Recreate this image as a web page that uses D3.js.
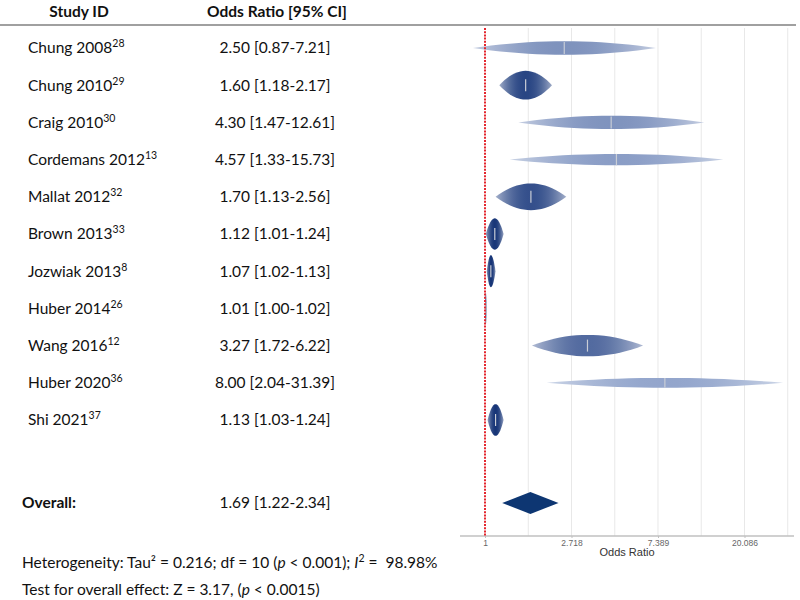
<!DOCTYPE html>
<html>
<head>
<meta charset="utf-8">
<script src="https://cdn.jsdelivr.net/npm/d3@7"></script>
<style>
  body { margin: 0; background: #fff; }
  svg { display: block; }
  .tbl { font-family: Lato, "Open Sans", sans-serif; font-size: 15.5px; fill: #111; }
  .axis text { font-family: "Liberation Sans", Arial, sans-serif; }
</style>
</head>
<body>
<div class="chart"></div>
<script>
// study data
const studies = ["Chung 2008", "Chung 2010", "Craig 2010", "Cordemans 2012", "Mallat 2012", "Brown 2013",
  "Jozwiak 2013", "Huber 2014", "Wang 2016", "Huber 2020", "Shi 2021"];
const refs = ["28", "29", "30", "13", "32", "33", "8", "26", "12", "36", "37"];
const oddsRatio = [2.50, 1.60, 4.30, 4.57, 1.70, 1.12, 1.07, 1.01, 3.27, 8.00, 1.13];
const lower = [0.87, 1.18, 1.47, 1.33, 1.13, 1.01, 1.02, 1.00, 1.72, 2.04, 1.03];
const upper = [7.21, 2.17, 12.61, 15.73, 2.56, 1.24, 1.13, 1.02, 6.22, 31.39, 1.24];
// random-effects weights (%)
const weights = [5.4, 11.4, 5.3, 4.5, 10.6, 12.5, 12.7, 12.7, 8.5, 3.9, 12.6];

const overall = { or: 1.69, lower: 1.22, upper: 2.34 };

// axis
const tickValues = [1, 2.718, 7.389, 20.086];
const tickLabels = ["1", "2.718", "7.389", "20.086"];
const gridValues = [1.649, 2.718, 4.482, 7.389, 12.182, 20.086, 33.115];

const width = 800, height = 600;
const svg = d3.select(".chart").append("svg").attr("width", width).attr("height", height);

const y = d3.scalePoint().domain(studies).range([48, 420]);
const oy = y(studies[studies.length - 1]) + y.step() * 2.23;
const x = d3.scaleLog().domain([0.749, 35.6]).range([460, 794]);
const h = d3.scaleLinear().domain([0, 12.7]).range([0, 32]);
const shade = d3.scaleLinear().domain([3.9, 12.7]).range(["#93a5cc", "#163476"]).clamp(true);

const plotTop = 28, axisY = 536;

// header
svg.append("text").attr("class", "tbl").attr("x", 79).attr("y", 17).attr("text-anchor", "middle")
  .attr("font-weight", "bold").text("Study ID");
svg.append("text").attr("class", "tbl").attr("x", 277).attr("y", 17).attr("text-anchor", "middle")
  .attr("font-weight", "bold").text("Odds Ratio [95% CI]");
svg.append("line").attr("x1", 0).attr("x2", 796).attr("y1", 25).attr("y2", 25)
  .attr("stroke", "#808080").attr("stroke-width", 1.5);

// grid
svg.append("g").selectAll("line").data(gridValues).enter().append("line")
  .attr("x1", d => x(d)).attr("x2", d => x(d))
  .attr("y1", plotTop).attr("y2", axisY)
  .attr("stroke", "#e8e8e8").attr("stroke-width", 1);

// axis
const axis = svg.append("g").attr("class", "axis").attr("transform", `translate(0,${axisY})`)
  .call(d3.axisBottom(x).tickValues(tickValues).tickFormat((d, i) => tickLabels[i]).tickSize(2).tickPadding(2));
axis.select(".domain").attr("stroke", "#c0c0c0").attr("stroke-width", 1.5).attr("d", `M460,0H794`);
axis.selectAll(".tick line").attr("stroke", "#c0c0c0");
axis.selectAll(".tick text").attr("fill", "#666").attr("font-size", 8.5);
svg.append("text").attr("x", 627).attr("y", 556).attr("text-anchor", "middle")
  .attr("font-family", "Liberation Sans, Arial, sans-serif").attr("font-size", 11).attr("fill", "#333")
  .text("Odds Ratio");

// raindrops
const data = studies.map((name, i) => ({
  name, ref: refs[i], or: oddsRatio[i], lo: lower[i], hi: upper[i], w: weights[i]
}));

const defs = svg.append("defs");
const tSteps = d3.range(-1, 1.0001, 0.1);

data.forEach((d, i) => {
  const dark = shade(d.w);
  const edge = d3.interpolateRgb(dark, "#ffffff")(0.55);
  const grad = defs.append("linearGradient").attr("id", "g" + i)
    .attr("gradientUnits", "userSpaceOnUse")
    .attr("x1", x(d.lo)).attr("x2", x(d.hi)).attr("y1", 0).attr("y2", 0);
  grad.selectAll("stop").data(tSteps).enter().append("stop")
    .attr("offset", t => (t + 1) / 2)
    .attr("stop-color", t => d3.interpolateRgb(edge, dark)(1 - t * t));
});

const drop = (d) => {
  const l = Math.log(d.lo), u = Math.log(d.hi), m = Math.log(d.or);
  const half = h(d.w) / 2;
  const pts = tSteps.map(t => {
    const v = t < 0 ? m + t * (m - l) : m + t * (u - m);
    return [x(Math.exp(v)), half * (1 - t * t)];
  });
  const top = pts.map(p => [p[0], y(d.name) - p[1]]);
  const bot = pts.slice().reverse().map(p => [p[0], y(d.name) + p[1]]);
  return d3.line()(top.concat(bot)) + "Z";
};

svg.append("g").selectAll("path").data(data).enter().append("path")
  .attr("d", drop)
  .attr("fill", (d, i) => `url(#g${i})`);

svg.append("g").selectAll("line").data(data).enter().append("line")
  .attr("x1", d => x(d.or)).attr("x2", d => x(d.or))
  .attr("y1", d => y(d.name) - Math.min(h(d.w) / 2, 6))
  .attr("y2", d => y(d.name) + Math.min(h(d.w) / 2, 6))
  .attr("stroke", "#c9cdd6").attr("stroke-width", 1.2);

// overall diamond
svg.append("path")
  .attr("d", `M${x(overall.lower)},${oy}L${x(overall.or)},${oy - 11}L${x(overall.upper)},${oy}L${x(overall.or)},${oy + 11}Z`)
  .attr("fill", "#0d3672");

// null line
svg.append("line").attr("x1", x(1)).attr("x2", x(1)).attr("y1", plotTop).attr("y2", axisY)
  .attr("stroke", "#e3262e").attr("stroke-width", 2).attr("stroke-dasharray", "2,1.2");

// table rows
const label = svg.append("g").selectAll("text").data(data).enter().append("text")
  .attr("class", "tbl").attr("x", 28).attr("y", d => y(d.name)).attr("dy", "0.35em");
label.append("tspan").text(d => d.name);
label.append("tspan").attr("font-size", 10.5).attr("dy", -6).text(d => d.ref);

svg.append("g").selectAll("text").data(data).enter().append("text")
  .attr("class", "tbl").attr("x", 275).attr("y", d => y(d.name)).attr("dy", "0.35em")
  .attr("text-anchor", "middle")
  .text(d => `${d.or.toFixed(2)} [${d.lo.toFixed(2)}-${d.hi.toFixed(2)}]`);

svg.append("text").attr("class", "tbl").attr("x", 22).attr("y", oy).attr("dy", "0.35em")
  .attr("font-weight", "bold").text("Overall:");
svg.append("text").attr("class", "tbl").attr("x", 275).attr("y", oy).attr("dy", "0.35em")
  .attr("text-anchor", "middle")
  .text(`${overall.or.toFixed(2)} [${overall.lower.toFixed(2)}-${overall.upper.toFixed(2)}]`);

// footer
const het = svg.append("text").attr("class", "tbl").attr("x", 22).attr("y", 568).style("white-space", "pre");
het.append("tspan").text("Heterogeneity: Tau² = 0.216; df = 10 (");
het.append("tspan").attr("font-style", "italic").text("p");
het.append("tspan").text(" < 0.001); ");
het.append("tspan").attr("font-style", "italic").text("I");
het.append("tspan").attr("font-size", 10.5).attr("dy", -6).text("2");
het.append("tspan").attr("dy", 6).text(" =  98.98%");

const test = svg.append("text").attr("class", "tbl").attr("x", 22).attr("y", 595);
test.append("tspan").text("Test for overall effect: Z = 3.17, (");
test.append("tspan").attr("font-style", "italic").text("p");
test.append("tspan").text(" < 0.0015)");
</script>
</body>
</html>
